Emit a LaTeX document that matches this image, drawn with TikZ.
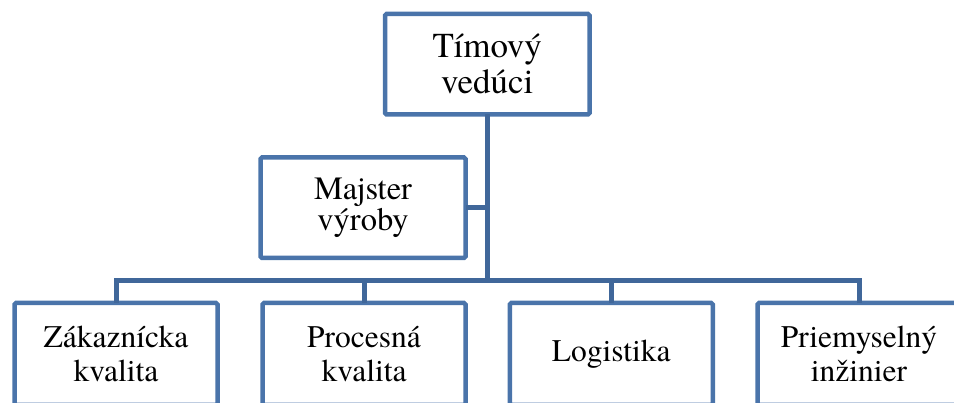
\documentclass[tikz,border=0pt]{standalone}
\usepackage{fontspec}
\setmainfont{TeX Gyre Termes}
\definecolor{boxblue}{RGB}{74,116,170}
\definecolor{linkblue}{RGB}{64,103,154}
\tikzset{
  orgbox/.style={draw=boxblue, line width=4.5pt, fill=white, rounded corners=1.5pt,
    inner sep=0pt, outer sep=0pt, align=center, text=black},
  leafbox/.style={orgbox, minimum width=203pt, minimum height=102pt,
    font=\fontsize{31.5}{34}\selectfont},
  link/.style={draw=linkblue, line width=5pt}
}
\begin{document}
\begin{tikzpicture}[x=1pt,y=-1pt]
  \useasboundingbox (0,0) rectangle (954,403);
  \clip (0,0) rectangle (954,403);

  % head of the team
  \node[orgbox, minimum width=204.5pt, minimum height=100.5pt,
        font=\fontsize{35}{35.7}\selectfont] (lead) at (487.25,64.25) {Tímový\\vedúci};

  % assistant to the head
  \node[orgbox, minimum width=205pt, minimum height=100.5pt,
        font=\fontsize{32.5}{27.4}\selectfont] (master) at (363,207.75) {Majster\\výroby};

  % subordinate roles
  \node[leafbox] (cust)  at (116,354)    {Zákaznícka\\kvalita};
  \node[leafbox] (proc)  at (364,354)    {Procesná\\kvalita};
  \node[leafbox] (logi)  at (611.25,354) {Logistika};
  \node[leafbox] (indus) at (859,354)    {Priemyselný\\inžinier};

  % connectors
  \coordinate (bus) at (487.25,280.5);
  \draw[link] (lead.south) -- (bus);
  \draw[link] (master.east) -- (master.east -| lead.south);
  \draw[link] (bus) -| (cust.north);
  \draw[link] (bus) -| (proc.north);
  \draw[link] (bus) -| (logi.north);
  \draw[link] (bus) -| (indus.north);
\end{tikzpicture}
\end{document}
